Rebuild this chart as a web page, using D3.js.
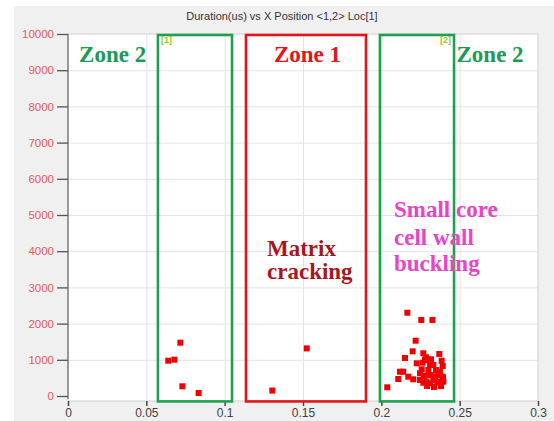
<!DOCTYPE html>
<html>
<head>
<meta charset="utf-8">
<script src="https://cdn.jsdelivr.net/npm/d3@7"></script>
<style>
  html, body { margin: 0; padding: 0; background: #ffffff; }
  svg { display: block; }
</style>
</head>
<body>
<script>
// ---- data ----
const title = "Duration(us) vs X Position <1,2> Loc[1]";
const xTicks = [0, 0.05, 0.1, 0.15, 0.2, 0.25, 0.3];
const xTickLabels = ["0", "0.05", "0.1", "0.15", "0.2", "0.25", "0.3"];
const yTicks = [0, 1000, 2000, 3000, 4000, 5000, 6000, 7000, 8000, 9000, 10000];
const yTickLabels = ["0", "1000", "2000", "3000", "4000", "5000", "6000", "7000", "8000", "9000", "10000"];

// event positions (x) and durations (us)
const eventX = [
  0.0717, 0.0640, 0.0679, 0.0730, 0.0834,
  0.1304, 0.1524,
  0.2166, 0.2255, 0.2326, 0.2219, 0.2200, 0.2151, 0.2268, 0.2370, 0.2285,
  0.2317, 0.2226, 0.2264, 0.2385, 0.2332, 0.2392, 0.2258, 0.2300, 0.2140,
  0.2119, 0.2311, 0.2370, 0.2392, 0.2172, 0.2108, 0.2204, 0.2247, 0.2289,
  0.2332, 0.2374, 0.2268, 0.2311, 0.2357, 0.2396, 0.2038, 0.2343, 0.2247,
  0.2280, 0.2350, 0.2279, 0.2311, 0.2349, 0.2374, 0.2394, 0.2292, 0.2336,
  0.2381, 0.2272
];
const eventDuration = [
  1472, 975, 1003, 268, 83,
  150, 1315,
  2300, 2100, 2100, 1528, 1234, 1050, 1179, 1160, 1069,
  1014, 903, 920, 975, 856, 829, 738, 718, 671,
  671, 580, 580, 533, 533, 470, 461, 442, 395,
  442, 395, 367, 351, 367, 395, 240, 533, 627,
  1000, 700, 994, 884, 718, 663, 497, 276, 249,
  276, 552
];

// zone boxes [x0, x1, yBottom, yTop]
const zoneNames = ["[1]", "Zone 1", "[2]"];
const zoneX0 = [0.0574, 0.1136, 0.1991];
const zoneX1 = [0.1047, 0.1902, 0.2464];
const zoneY0 = [-150, -150, -150];
const zoneY1 = [10000, 10000, 10000];

// ---- drawing ----
const W = 554, H = 421;
const svg = d3.select("body").append("svg").attr("width", W).attr("height", H);

// outer gray panel
svg.append("rect").attr("x", 14).attr("y", 6).attr("width", W - 14).attr("height", H - 6)
  .attr("fill", "#f0f0f0");

const x = d3.scaleLinear().domain([0, 0.3]).range([68, 538]);
const y = d3.scaleLinear().domain([0, 10000]).range([396, 34]);
const plotBottom = 401;

// plot area
svg.append("rect").attr("x", x(0)).attr("y", y(10000))
  .attr("width", x(0.3) - x(0)).attr("height", plotBottom - y(10000))
  .attr("fill", "#ffffff").attr("stroke", "#cfcfcf").attr("stroke-width", 1);

// gridlines
const grid = svg.append("g");
grid.selectAll("line.h").data(yTicks.filter(d => d > 0 && d < 10000)).enter().append("line")
  .attr("x1", x(0)).attr("x2", x(0.3))
  .attr("y1", d => y(d) + 0.5).attr("y2", d => y(d) + 0.5)
  .attr("stroke", "#e4e4e4").attr("stroke-width", 1);
grid.selectAll("line.v").data(xTicks.filter(d => d > 0 && d < 0.3)).enter().append("line")
  .attr("x1", d => x(d) + 0.5).attr("x2", d => x(d) + 0.5)
  .attr("y1", y(10000)).attr("y2", plotBottom)
  .attr("stroke", "#e4e4e4").attr("stroke-width", 1);

// y axis
const yAxis = d3.axisLeft(y).tickValues(yTicks)
  .tickFormat((d, i) => yTickLabels[i]).tickSize(11).tickPadding(3);
const gy = svg.append("g").attr("transform", `translate(${x(0)},0)`).call(yAxis);
gy.select(".domain").attr("stroke", "#808080").attr("stroke-width", 1.5)
  .attr("d", `M0,${y(10000)}V${plotBottom - 2}`);
gy.selectAll(".tick line").attr("stroke", "#555").attr("stroke-width", 1.3);
gy.selectAll(".tick text").attr("fill", "#e35a5a")
  .style("font-family", "'Liberation Sans', Arial, sans-serif").style("font-size", "11.5px");

// x axis
const xAxis = d3.axisBottom(x).tickValues(xTicks)
  .tickFormat((d, i) => xTickLabels[i]).tickSize(5).tickPadding(2);
const gx = svg.append("g").attr("transform", `translate(0,${plotBottom})`).call(xAxis);
gx.select(".domain").remove();
gx.selectAll(".tick line").attr("stroke", "#444").attr("stroke-width", 1.5);
gx.selectAll(".tick text").attr("fill", "#404040")
  .style("font-family", "'Liberation Sans', Arial, sans-serif").style("font-size", "12px");

// title
svg.append("text").attr("x", 282).attr("y", 20).attr("text-anchor", "middle")
  .attr("fill", "#333")
  .style("font-family", "'Liberation Sans', Arial, sans-serif").style("font-size", "11px")
  .text(title);

// zone boxes
const zoneColors = ["#1ea050", "#e3141b", "#1ea050"];
svg.append("g").selectAll("rect").data(zoneX0).enter().append("rect")
  .attr("x", (d, i) => x(zoneX0[i]))
  .attr("y", (d, i) => y(zoneY1[i]) + 1)
  .attr("width", (d, i) => x(zoneX1[i]) - x(zoneX0[i]))
  .attr("height", (d, i) => y(zoneY0[i]) - y(zoneY1[i]) - 1)
  .attr("fill", "none")
  .attr("stroke", (d, i) => zoneColors[i])
  .attr("stroke-width", 2.6);

// small zone tags
svg.append("text").attr("x", x(zoneX0[0]) + 3).attr("y", 43)
  .attr("fill", "#94c81c").style("font-family", "'Liberation Sans', Arial, sans-serif")
  .style("font-size", "9px").style("font-weight", "bold").text(zoneNames[0]);
svg.append("text").attr("x", x(zoneX1[2]) - 3).attr("y", 43).attr("text-anchor", "end")
  .attr("fill", "#94c81c").style("font-family", "'Liberation Sans', Arial, sans-serif")
  .style("font-size", "9px").style("font-weight", "bold").text(zoneNames[2]);

// big annotations
const serif = "'Liberation Serif', 'Times New Roman', serif";
function label(tx, ty, txt, color, size, anchor) {
  svg.append("text").attr("x", tx).attr("y", ty).attr("text-anchor", anchor || "start")
    .attr("fill", color).style("font-family", serif).style("font-weight", "bold")
    .style("font-size", size + "px").text(txt);
}
label(x(0.0285), 62, "Zone 2", "#1f9a55", 23, "middle");
label(x(0.1529), 62, "Zone 1", "#e3141b", 23, "middle");
label(x(0.2694), 62, "Zone 2", "#1f9a55", 23, "middle");
label(267, 256, "Matrix", "#a8161c", 23);
label(267, 279, "cracking", "#a8161c", 23);
label(394, 217, "Small core", "#e844c8", 23);
label(394, 245, "cell wall", "#e844c8", 23);
label(394, 271, "buckling", "#e844c8", 23);

// event markers
const s = 6;
svg.append("g").selectAll("rect").data(eventX).enter().append("rect")
  .attr("x", (d, i) => x(eventX[i]) - s / 2)
  .attr("y", (d, i) => y(eventDuration[i]) - s / 2)
  .attr("width", s).attr("height", s)
  .attr("fill", "#f00000");
</script>
</body>
</html>
